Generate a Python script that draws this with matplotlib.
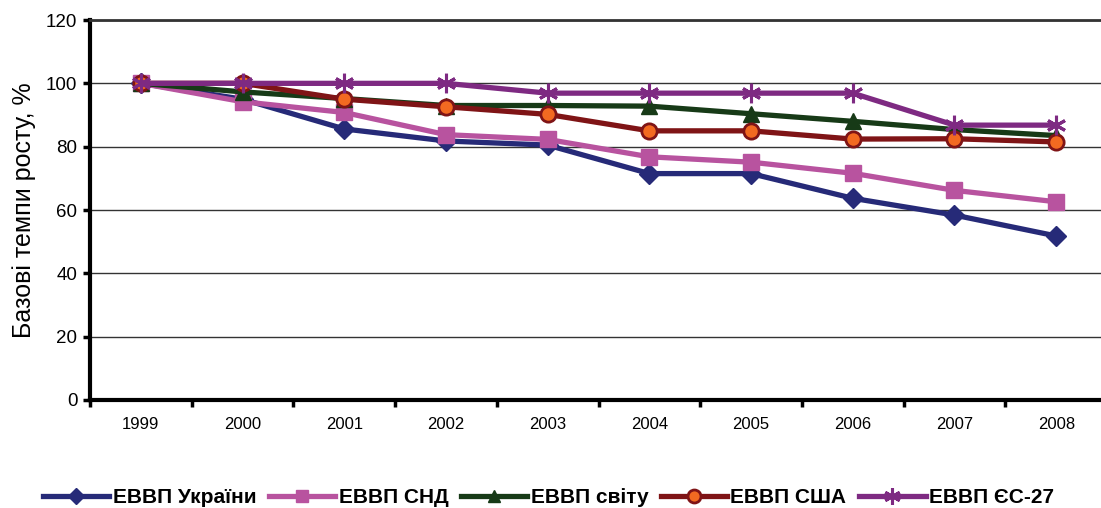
import matplotlib
matplotlib.use('Agg')
import matplotlib.pyplot as plt

# data
years = ['1999', '2000', '2001', '2002', '2003', '2004', '2005', '2006', '2007', '2008']
ukraine = [100, 95.0, 85.6, 81.8, 80.5, 71.5, 71.5, 63.7, 58.4, 51.8]
cis = [100, 94.2, 90.8, 83.8, 82.3, 76.8, 75.1, 71.6, 66.2, 62.6]
world = [100, 97.3, 95.2, 93.0, 93.0, 92.8, 90.4, 88.0, 85.4, 83.5]
usa = [100, 100, 95.0, 92.6, 90.2, 85.0, 85.0, 82.4, 82.5, 81.5]
eu27 = [100, 100, 100, 100, 96.9, 96.9, 96.9, 96.9, 86.8, 86.8]

labels = ['ЕВВП України', 'ЕВВП СНД', 'ЕВВП світу', 'ЕВВП США', 'ЕВВП ЄС-27']

plt.rcParams['font.family'] = ['Liberation Sans', 'DejaVu Sans']

fig = plt.figure(figsize=(11.01, 5.08), dpi=100)
ax = fig.add_axes([0.0817, 0.2126, 0.9238, 0.748])

x = list(range(len(years)))
lw = 3.8

# series, drawn in legend order
ax.plot(x, ukraine, color='#262a78', lw=lw, marker='D', ms=10, mfc='#262a78', mec='#262a78', label=labels[0])
ax.plot(x, cis, color='#b8539f', lw=lw, marker='s', ms=11, mfc='#b8539f', mec='#b8539f', label=labels[1])
ax.plot(x, world, color='#173a17', lw=lw, marker='^', ms=11, mfc='#173a17', mec='#173a17', label=labels[2])
ax.plot(x, usa, color='#7f1416', lw=lw, marker='o', ms=11, mfc='#f26a21', mec='#7f1416', mew=2, label=labels[3])
ax.plot(x, eu27, color='#7e2a82', lw=lw, marker=(6, 2, 0), ms=14, mfc='#7e2a82', mec='#7e2a82', mew=2.2, label=labels[4])

ax.set_xlim(-0.5, len(years) - 0.5)
ax.set_ylim(0, 120)
ax.set_yticks([0, 20, 40, 60, 80, 100, 120])

# category labels between boundary ticks
ax.set_xticks([i + 0.5 for i in range(-1, len(years))])
ax.set_xticklabels([])
ax.set_xticks(x, minor=True)
ax.set_xticklabels(years, minor=True, fontsize=12)
ax.tick_params(axis='x', which='minor', length=0, pad=12)
ax.tick_params(axis='x', which='major', length=5, width=2.5, direction='out')
ax.tick_params(axis='y', length=5, width=2.5, direction='out', labelsize=13.5, pad=4)

ax.yaxis.grid(True, color='#333333', lw=1.0)
ax.set_axisbelow(True)
for s in ['left', 'bottom']:
    ax.spines[s].set_linewidth(3)
    ax.spines[s].set_color('black')
ax.spines['top'].set_linewidth(2)
ax.spines['top'].set_color('#333333')
ax.spines['right'].set_visible(False)

ax.set_ylabel('Базові темпи росту, %', fontsize=18, labelpad=7)

# legend at the bottom
fig.legend(loc='center', bbox_to_anchor=(0.498, 0.02), ncol=5, frameon=False,
           prop={'weight': 'bold', 'size': 15}, handlelength=3.2, handletextpad=0.15,
           columnspacing=0.6, markerscale=0.85)

fig.savefig('out.png', dpi=100)
